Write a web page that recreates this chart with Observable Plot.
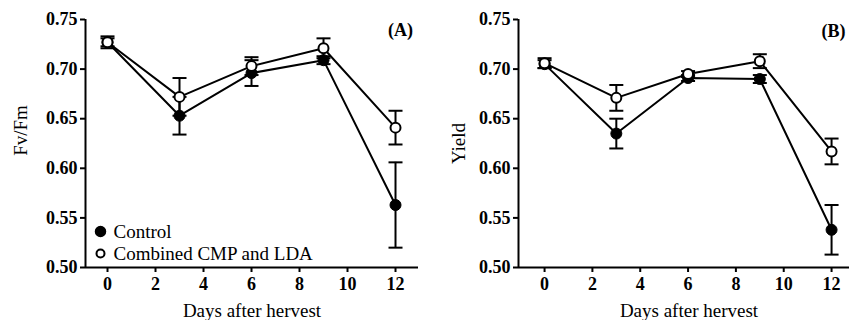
<!DOCTYPE html>
<html>
<head>
<meta charset="utf-8">
<script src="https://cdn.jsdelivr.net/npm/d3@7"></script>
<script src="https://cdn.jsdelivr.net/npm/@observablehq/plot@0.6"></script>
<style>
  html, body { margin: 0; padding: 0; background: #fff; }
  #wrap { display: flex; width: 849px; height: 320px; overflow: hidden; }
  #wrap svg { display: block; overflow: visible; }
  #wrap svg, #wrap svg text { font-family: "Liberation Serif", "Times New Roman", serif !important; }
  #wrap svg text { fill: #000; }
</style>
</head>
<body>
<div id="wrap"></div>
<script>
// ---- data ----
const days = [0, 3, 6, 9, 12];
const seriesNames = ["Control", "Combined CMP and LDA"];
const xTicks = [0, 2, 4, 6, 8, 10, 12];
const yTicks = [0.50, 0.55, 0.60, 0.65, 0.70, 0.75];

const fvfmControl      = [0.727, 0.653, 0.696, 0.709, 0.563];
const fvfmControlErr   = [0.004, 0.019, 0.013, 0.004, 0.043];
const fvfmCombined     = [0.727, 0.672, 0.703, 0.721, 0.641];
const fvfmCombinedErr  = [0.006, 0.019, 0.009, 0.010, 0.017];

const yieldControl     = [0.705, 0.635, 0.691, 0.690, 0.538];
const yieldControlErr  = [0.004, 0.015, 0.003, 0.004, 0.025];
const yieldCombined    = [0.706, 0.671, 0.695, 0.708, 0.617];
const yieldCombinedErr = [0.005, 0.013, 0.003, 0.007, 0.013];

const panelLabels = ["(A)", "(B)"];
const yLabels = ["Fv/Fm", "Yield"];
const xLabel = "Days after hervest";

// ---- helpers ----
function rows(values, errs, series) {
  return days.map((d, i) => ({day: d, v: values[i], e: errs[i], series}));
}
const capSymbol = {
  draw(ctx, size) {
    const w = Math.sqrt(size / Math.PI);
    ctx.moveTo(-w, 0);
    ctx.lineTo(w, 0);
  }
};
const FONT = "Liberation Serif";

function panel({control, combined, width, marginLeft, marginRight, xDomain, yLabel, yLabelDx, yLabelDy, xLabelDx, tag, tagDx, tagDy, legend}) {
  const all = control.concat(combined);
  const marks = [
    Plot.axisY({ticks: yTicks, tickFormat: d3.format(".2f"), tickSize: 5, tickPadding: 3, strokeWidth: 2,
                fontSize: 18, fontWeight: "bold", fontFamily: FONT, label: null}),
    Plot.axisX({ticks: xTicks, tickFormat: d => d, tickSize: 5, tickPadding: 5, strokeWidth: 2,
                fontSize: 18, fontWeight: "bold", fontFamily: FONT, label: null}),
    Plot.ruleY([yTicks[0]], {strokeWidth: 2}),
    Plot.ruleX([xDomain[0]], {strokeWidth: 2}),
    // error bars
    Plot.ruleX(all, {x: "day", y1: d => d.v - d.e, y2: d => d.v + d.e, stroke: "black", strokeWidth: 2}),
    Plot.dot(all, {x: "day", y: d => d.v + d.e, r: 7, symbol: capSymbol, stroke: "black", strokeWidth: 2, fill: "none"}),
    Plot.dot(all, {x: "day", y: d => d.v - d.e, r: 7, symbol: capSymbol, stroke: "black", strokeWidth: 2, fill: "none"}),
    // lines
    Plot.line(control, {x: "day", y: "v", stroke: "black", strokeWidth: 2}),
    Plot.line(combined, {x: "day", y: "v", stroke: "black", strokeWidth: 2}),
    // points
    Plot.dot(control, {x: "day", y: "v", r: 5.5, fill: "black", stroke: "black", strokeWidth: 1}),
    Plot.dot(combined, {x: "day", y: "v", r: 5, fill: "white", stroke: "black", strokeWidth: 2}),
    // axis titles
    Plot.text([yLabel], {text: d => d, frameAnchor: "left", textAnchor: "middle", lineAnchor: "middle",
                         rotate: -90, dx: yLabelDx, dy: yLabelDy,
                         fontSize: 19, fontFamily: FONT, fill: "black"}),
    Plot.text([xLabel], {text: d => d, frameAnchor: "bottom", textAnchor: "middle", lineAnchor: "middle",
                         dx: xLabelDx, dy: 43,
                         fontSize: 19, fontFamily: FONT, fill: "black"}),
    Plot.text([tag], {text: d => d, frameAnchor: "top-right", textAnchor: "middle", lineAnchor: "middle",
                      dx: tagDx, dy: tagDy,
                      fontSize: 18, fontWeight: "bold", fontFamily: FONT, fill: "black"})
  ];
  if (legend) {
    marks.push(
      Plot.dot([seriesNames[0]], {frameAnchor: "bottom-left", dx: 15, dy: -36, r: 5, fill: "black", stroke: "black"}),
      Plot.dot([seriesNames[1]], {frameAnchor: "bottom-left", dx: 15, dy: -14, r: 4, fill: "white", stroke: "black", strokeWidth: 2}),
      Plot.text([seriesNames[0]], {text: d => d, frameAnchor: "bottom-left", textAnchor: "start", lineAnchor: "middle",
                                   dx: 28, dy: -36, fontSize: 19, fontFamily: FONT, fill: "black"}),
      Plot.text([seriesNames[1]], {text: d => d, frameAnchor: "bottom-left", textAnchor: "start", lineAnchor: "middle",
                                   dx: 28, dy: -14, fontSize: 19, fontFamily: FONT, fill: "black"})
    );
  }
  return Plot.plot({
    width, height: 320,
    marginLeft, marginRight, marginTop: 19, marginBottom: 53,
    style: {fontFamily: FONT, fontSize: "18px", color: "black", background: "white"},
    x: {domain: xDomain},
    y: {domain: [0.50, 0.75]},
    marks
  });
}

const wrap = document.getElementById("wrap");
wrap.appendChild(panel({
  control: rows(fvfmControl, fvfmControlErr, seriesNames[0]),
  combined: rows(fvfmCombined, fvfmCombinedErr, seriesNames[1]),
  width: 424, marginLeft: 85, marginRight: 6, xDomain: [-0.917, 12.958],
  yLabel: yLabels[0], yLabelDx: -65, yLabelDy: -13, xLabelDx: 0,
  tag: panelLabels[0], tagDx: -18, tagDy: 11, legend: true
}));
wrap.appendChild(panel({
  control: rows(yieldControl, yieldControlErr, seriesNames[0]),
  combined: rows(yieldCombined, yieldCombinedErr, seriesNames[1]),
  width: 425, marginLeft: 94, marginRight: 0, xDomain: [-1.09, 12.75],
  yLabel: yLabels[1], yLabelDx: -60, yLabelDy: 0, xLabelDx: 5,
  tag: panelLabels[1], tagDx: -16, tagDy: 12, legend: false
}));
</script>
</body>
</html>
